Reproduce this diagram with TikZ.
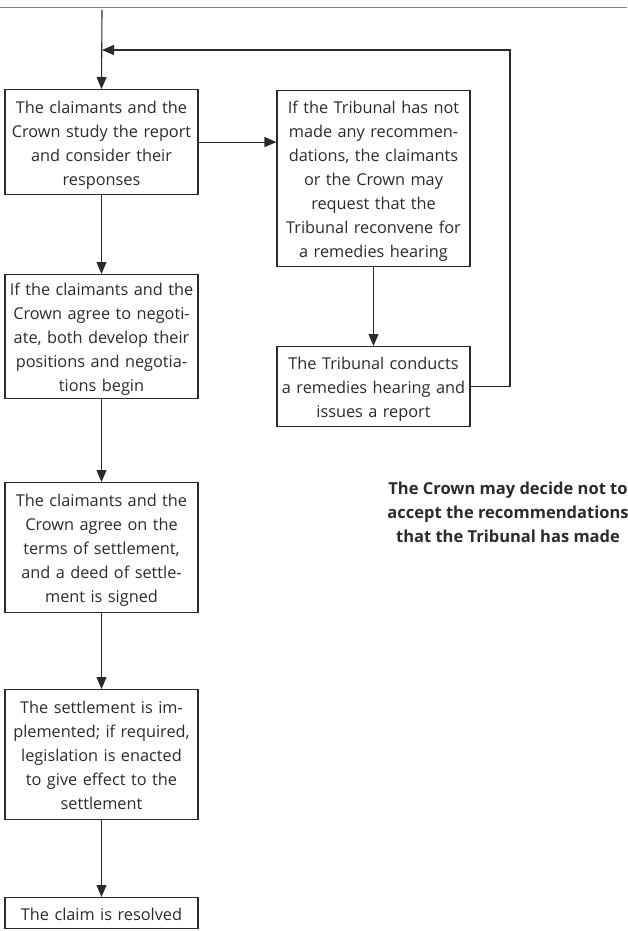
\documentclass[tikz,border=0pt]{standalone}
\usepackage{fontspec}
\setmainfont{Open Sans}
\usetikzlibrary{arrows.meta}
\definecolor{ink}{HTML}{2B2B2B}

\begin{document}
\begin{tikzpicture}[x=1pt,y=-1pt,
  line width=1.1pt,draw=ink,
  box/.style={draw=ink,rectangle,anchor=north,minimum width=193pt,inner sep=2pt,
    text width=189pt,align=center,text=ink,
    execute at begin node={\rule{0pt}{19pt}},
    execute at end node={\rule[-5pt]{0pt}{5pt}},
    font=\fontsize{16.3}{24}\selectfont},
  arr/.style={-{Triangle[length=12pt,width=10pt]}},
  note/.style={text=ink,align=center,font=\bfseries\fontsize{16.5}{24}\selectfont}]
\useasboundingbox (0,0) rectangle (627,931);
\draw[gray,line width=0.8pt] (0,7) -- (627,7);
\node[box,minimum height=105pt] (STUDY) at (101.5,89) {The claimants and the\\Crown study the report\\and consider their\\responses};
\node[box,minimum height=176pt] (REQ) at (373.5,90) {If the Tribunal has not\\made any recommen-\\dations, the claimants\\or the Crown may\\request that the\\Tribunal reconvene for\\a remedies hearing};
\node[box,minimum height=80pt] (HEAR) at (373.5,346) {The Tribunal conducts\\a remedies hearing and\\issues a report};
\node[box,minimum height=105pt] (NEGO) at (101.5,274) {If the claimants and the\\Crown agree to negoti-\\ate, both develop their\\positions and negotia-\\tions begin};
\node[box,minimum height=130pt] (AGREE) at (101.5,482) {The claimants and the\\Crown agree on the\\terms of settlement,\\and a deed of settle-\\ment is signed};
\node[box,minimum height=130pt] (IMPL) at (101.5,689) {The settlement is im-\\plemented; if required,\\legislation is enacted\\to give effect to the\\settlement};
\node[box,minimum height=31pt] (DONE) at (101.5,897) {The claim is resolved};
\node[note] (CAPTION) at (508,512) {The Crown may decide not to\\accept the recommendations\\that the Tribunal has made};
\coordinate (TOP) at (102,10);
\coordinate (JOIN) at (102,50);
\coordinate (BACK) at (510,50);
\draw[arr] (TOP) -- (STUDY.north);
\draw[arr] (STUDY.east) -- (STUDY.east -| REQ.west);
\draw[arr] (REQ.south) -- (HEAR.north);
\draw[arr] (HEAR.east) -| (BACK) -- (JOIN);
\draw[arr] (STUDY.south) -- (NEGO.north);
\draw[arr] (NEGO.south) -- (AGREE.north);
\draw[arr] (AGREE.south) -- (IMPL.north);
\draw[arr] (IMPL.south) -- (DONE.north);
\end{tikzpicture}
\end{document}
